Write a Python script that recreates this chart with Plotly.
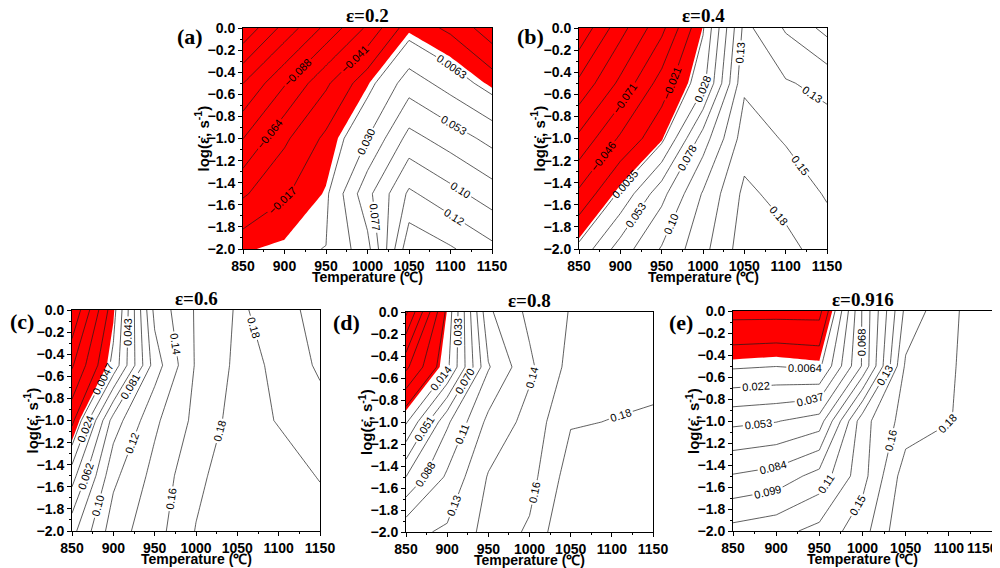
import math
import plotly.graph_objects as go

# ---------------- data ----------------
temperature = [850, 900, 950, 1000, 1050, 1100, 1150]
log_strain_rate = [-2.0, -1.5, -1.0, -0.5, 0.0]

# instability parameter xi, rows = log strain rate (-2 -> 0), cols = temperature
xi_eps_02 = [
    [-0.002, 0.004, 0.0066, 0.045, 0.165, 0.150, 0.130],
    [-0.044, -0.020, 0.002, 0.070, 0.128, 0.108, 0.088],
    [-0.088, -0.045, -0.012, 0.030, 0.085, 0.066, 0.046],
    [-0.135, -0.090, -0.045, -0.002, 0.042, 0.020, -0.004],
    [-0.200, -0.150, -0.105, -0.060, -0.004, -0.022, -0.055],
]
xi_eps_04 = [
    [0.010, 0.065, 0.105, 0.145, 0.190, 0.185, 0.165],
    [-0.041, 0.008, 0.070, 0.130, 0.183, 0.168, 0.150],
    [-0.090, -0.042, -0.003, 0.090, 0.165, 0.150, 0.140],
    [-0.140, -0.090, -0.035, 0.020, 0.148, 0.130, 0.120],
    [-0.190, -0.130, -0.078, 0.001, 0.135, 0.100, 0.070],
]
xi_eps_06 = [
    [0.075, 0.130, 0.150, 0.178, 0.200, 0.195, 0.185],
    [0.035, 0.115, 0.145, 0.172, 0.190, 0.185, 0.176],
    [-0.020, 0.090, 0.135, 0.163, 0.185, 0.176, 0.168],
    [-0.055, 0.010, 0.110, 0.160, 0.181, 0.175, 0.154],
    [-0.090, -0.003, 0.125, 0.160, 0.179, 0.172, 0.145],
]
xi_eps_08 = [
    [0.120, 0.128, 0.150, 0.165, 0.200, 0.200, 0.200],
    [0.070, 0.110, 0.145, 0.155, 0.190, 0.190, 0.190],
    [0.012, 0.085, 0.130, 0.150, 0.179, 0.181, 0.183],
    [-0.045, 0.010, 0.105, 0.140, 0.168, 0.174, 0.175],
    [-0.100, 0.001, 0.122, 0.148, 0.163, 0.168, 0.170],
]
xi_eps_0916 = [
    [0.120, 0.125, 0.135, 0.155, 0.190, 0.195, 0.195],
    [0.085, 0.090, 0.105, 0.140, 0.185, 0.190, 0.190],
    [0.049, 0.052, 0.060, 0.140, 0.168, 0.176, 0.185],
    [0.004, 0.006, 0.003, 0.070, 0.164, 0.175, 0.185],
    [-0.030, -0.030, -0.030, 0.070, 0.150, 0.174, 0.185],
]

strain_labels = ["ε=0.2", "ε=0.4", "ε=0.6", "ε=0.8", "ε=0.916"]
panel_letters = ["(a)", "(b)", "(c)", "(d)", "(e)"]
level_base = [0.0063, 0.0035, 0.0047, -0.0041, 0.0064]
level_step = [0.0235, 0.02482, 0.01915, 0.01846, 0.01548]
x_ticks = [850, 900, 950, 1000, 1050, 1100, 1150]
x_tick_text = ["850", "900", "950", "1000", "1050", "1100", "1150"]
x_title = "Temperature (℃)"
y_title = "log(ε̇, s<sup>-1</sup>)"

panels_z = [xi_eps_02, xi_eps_04, xi_eps_06, xi_eps_08, xi_eps_0916]

# ---------------- layout geometry ----------------
# target pixel positions in the 1000x568 screenshot; the page body adds an
# 8 px margin, so the figure itself is drawn 8 px up/left of these targets.
W, H = 1000, 568
OFF = 8


def px(xp):
    return (xp - OFF) / W


def py(yp):
    return 1 - (yp - OFF) / H


boxes = [  # left, right, top, bottom
    (243, 492, 28, 249),
    (579, 827, 28, 249),
    (72, 320, 310, 531),
    (406, 653, 312, 532),
    (733, 992, 311, 531),
]
letter_pos = [(190, 37), (530, 37), (22, 321), (346, 322), (681, 322)]

fig = go.Figure()
annotations = []
layout = dict(
    width=W, height=H, autosize=False,
    margin=dict(l=0, r=0, t=0, b=0, pad=0),
    paper_bgcolor="white", plot_bgcolor="white",
    showlegend=False,
)

sans = "Liberation Sans, Arial"
serif = "Liberation Serif, Times New Roman"
tick_font = dict(family=sans, size=14, color="black", weight="bold")
title_font = dict(family=sans, size=14, color="black", weight="bold")

for i, z in enumerate(panels_z):
    n = i + 1
    xa = "x" if n == 1 else f"x{n}"
    ya = "y" if n == 1 else f"y{n}"
    zmin = min(min(r) for r in z)
    zmax = max(max(r) for r in z)
    base, step = level_base[i], level_step[i]
    k = math.ceil((base - zmin) / step)
    start = base - k * step
    end = zmax - 0.5 * step

    # instability (xi < 0) region filled red
    fig.add_trace(go.Contour(
        x=temperature, y=log_strain_rate, z=z,
        xaxis=xa, yaxis=ya,
        contours=dict(type="constraint", operation=">", value=0),
        fillcolor="#ff0000",
        line=dict(width=0, smoothing=0),
        hoverinfo="skip", showscale=False,
    ))
    # iso-lines with labels
    fig.add_trace(go.Contour(
        x=temperature, y=log_strain_rate, z=z,
        xaxis=xa, yaxis=ya,
        autocontour=False,
        contours=dict(
            coloring="lines", start=start, end=end, size=step,
            showlabels=True, labelformat=".2g",
            labelfont=dict(family=sans, size=11, color="black"),
        ),
        colorscale=[[0, "#1a1a1a"], [1, "#1a1a1a"]],
        line=dict(width=0.7, smoothing=0),
        showscale=False, hoverinfo="skip",
    ))

    l, r, t, b = boxes[i]
    ticktext = list(x_tick_text)
    if r > 985:  # last label kept inside the page, as in the original
        ticktext[-1] = ticktext[-1] + "\u00a0" * 5
    xkey = "xaxis" if n == 1 else f"xaxis{n}"
    ykey = "yaxis" if n == 1 else f"yaxis{n}"
    layout[xkey] = dict(
        domain=[px(l), px(r)], anchor=ya, range=[850, 1150], automargin=False,
        tickvals=x_ticks, ticktext=ticktext, ticklabeloverflow="allow", tickangle=0,
        ticks="outside", ticklen=4, tickwidth=1, tickcolor="black",
        minor=dict(ticks="outside", ticklen=2, dtick=25, tickcolor="black"),
        showline=True, linecolor="black", linewidth=1, mirror=True,
        showgrid=False, zeroline=False, tickfont=tick_font,
    )
    layout[ykey] = dict(
        domain=[py(b), py(t)], anchor=xa, range=[-2, 0], automargin=False,
        dtick=0.2, tick0=0, tickformat=".1f",
        ticks="outside", ticklen=4, tickwidth=1, tickcolor="black",
        minor=dict(ticks="outside", ticklen=2, dtick=0.1, tickcolor="black"),
        showline=True, linecolor="black", linewidth=1, mirror=True,
        showgrid=False, zeroline=False, tickfont=tick_font,
    )
    # axis titles
    annotations.append(dict(
        text=x_title, xref="paper", yref="paper",
        x=px((l + r) / 2), y=py(b + 28), xanchor="center", yanchor="middle",
        showarrow=False, font=title_font,
    ))
    annotations.append(dict(
        text=y_title, xref="paper", yref="paper", textangle=-90,
        x=px(l - 41), y=py((t + b) / 2), xanchor="center", yanchor="middle",
        showarrow=False, font=dict(family=sans, size=15, color="black", weight="bold"),
    ))
    # panel title
    annotations.append(dict(
        text=strain_labels[i], xref="paper", yref="paper",
        x=px((l + r) / 2), y=py(t - 12), xanchor="center", yanchor="middle",
        showarrow=False,
        font=dict(family=serif, size=19, color="black", weight="bold"),
    ))
    lx, ly = letter_pos[i]
    annotations.append(dict(
        text=panel_letters[i], xref="paper", yref="paper",
        x=px(lx), y=py(ly), xanchor="center", yanchor="middle",
        showarrow=False,
        font=dict(family=serif, size=22, color="black", weight="bold"),
    ))

layout["annotations"] = annotations
fig.update_layout(**layout)
fig.write_html("out.html")
